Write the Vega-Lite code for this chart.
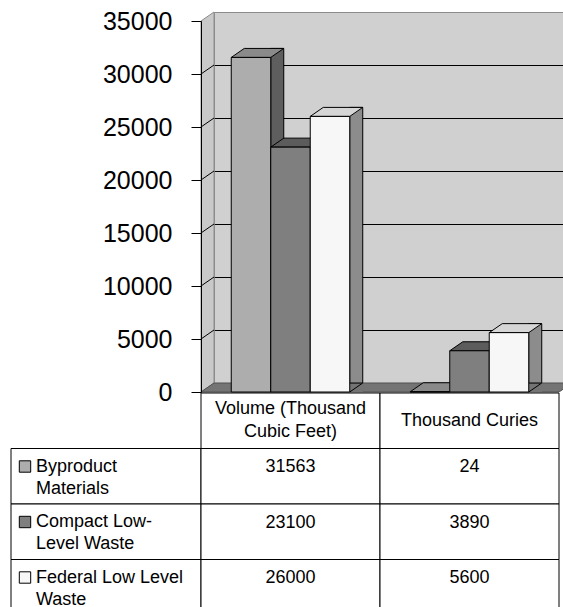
{
  "$schema": "https://vega.github.io/schema/vega-lite/v6.json",
  "width": 349,
  "height": 371,
  "autosize": {"type": "none"},
  "padding": {"left": 214, "top": 12, "right": 0, "bottom": 224},
  "background": "white",
  "config": {
    "font": "Liberation Sans",
    "view": {"fill": "#D0D0D0", "stroke": "#8C8C8C", "strokeWidth": 1}
  },
  "data": {
    "values": [
      {"category": "Volume (Thousand Cubic Feet)", "series": "Byproduct Materials", "value": 31563},
      {"category": "Volume (Thousand Cubic Feet)", "series": "Compact Low-Level Waste", "value": 23100},
      {"category": "Volume (Thousand Cubic Feet)", "series": "Federal Low Level Waste", "value": 26000},
      {"category": "Thousand Curies", "series": "Byproduct Materials", "value": 24},
      {"category": "Thousand Curies", "series": "Compact Low-Level Waste", "value": 3890},
      {"category": "Thousand Curies", "series": "Federal Low Level Waste", "value": 5600}
    ]
  },
  "layer": [
    {
      "layer": [
        {
          "transform": [{"aggregate": [{"op": "count", "as": "n"}]}],
          "mark": {"type": "point", "shape": "M -13 9 L 0 0 L 0 -371 L -13 -362 Z", "size": 4, "filled": true, "fill": "#C9C9C9", "stroke": "#8C8C8C", "strokeWidth": 1, "opacity": 1},
          "encoding": {
            "x": {"datum": "Volume (Thousand Cubic Feet)", "type": "nominal", "bandPosition": 0, "scale": {"type": "band", "domain": ["Volume (Thousand Cubic Feet)", "Thousand Curies"], "range": [0, 358], "paddingInner": 0, "paddingOuter": 0}, "axis": null},
            "y": {"datum": 0, "type": "quantitative", "scale": {"domain": [0, 35000], "nice": false, "zero": true},
              "axis": {"orient": "left", "grid": true, "gridColor": {"condition": {"test": "datum.value === 35000", "value": "#8C8C8C"}, "value": "#000000"}, "gridOpacity": 1, "gridWidth": 1, "domain": false, "ticks": false, "labels": false, "title": null, "values": [0, 5000, 10000, 15000, 20000, 25000, 30000, 35000]}}
          }
        },
        {
          "transform": [{"aggregate": [{"op": "count", "as": "n"}]}],
          "mark": {"type": "point", "shape": "M -13 -44 L 0 -53 M -13 -97 L 0 -106 M -13 -150 L 0 -159 M -13 -203 L 0 -212 M -13 -256 L 0 -265 M -13 -309 L 0 -318", "size": 4, "filled": false, "stroke": "#000000", "strokeWidth": 1, "opacity": 1},
          "encoding": {
            "x": {"datum": "Volume (Thousand Cubic Feet)", "type": "nominal", "bandPosition": 0, "scale": {"type": "band", "domain": ["Volume (Thousand Cubic Feet)", "Thousand Curies"], "range": [0, 358], "paddingInner": 0, "paddingOuter": 0}, "axis": null},
            "y": {"datum": 0, "type": "quantitative", "axis": null}
          }
        },
        {
          "transform": [{"aggregate": [{"op": "count", "as": "n"}]}],
          "mark": {"type": "point", "shape": "M -13 9 L 0 0 L 358 0 L 345 9 Z", "size": 4, "filled": true, "fill": "#747474", "stroke": "#505050", "strokeWidth": 1, "opacity": 1},
          "encoding": {
            "x": {"datum": "Volume (Thousand Cubic Feet)", "type": "nominal", "bandPosition": 0, "scale": {"type": "band", "domain": ["Volume (Thousand Cubic Feet)", "Thousand Curies"], "range": [0, 358], "paddingInner": 0, "paddingOuter": 0}, "axis": null},
            "y": {"datum": 0, "type": "quantitative", "axis": null}
          }
        },
        {
          "mark": {"type": "bar", "width": 13, "y2Offset": 9, "stroke": "#000000", "strokeWidth": 1},
          "encoding": {
            "x": {"field": "category", "type": "nominal", "scale": {"type": "band", "domain": ["Volume (Thousand Cubic Feet)", "Thousand Curies"], "range": [13.25, 371.25], "paddingInner": 0, "paddingOuter": 0}, "axis": null},
            "xOffset": {"field": "series", "type": "nominal", "scale": {"type": "band", "domain": ["Byproduct Materials", "Compact Low-Level Waste", "Federal Low Level Waste"], "paddingInner": 0, "paddingOuter": 0.766}},
            "y": {"field": "value", "type": "quantitative", "axis": null},
            "fill": {"field": "series", "type": "nominal", "scale": {"domain": ["Byproduct Materials", "Compact Low-Level Waste", "Federal Low Level Waste"], "range": ["#5E5E5E", "#4A4A4A", "#8C8C8C"]}, "legend": null}
          }
        },
        {
          "mark": {"type": "point", "shape": "M 19.75 0 L 19.75 9 L 6.75 9 Z", "size": 4, "filled": true, "fill": "#747474", "strokeWidth": 0, "opacity": 1},
          "encoding": {
            "x": {"field": "category", "type": "nominal", "scale": {"type": "band", "domain": ["Volume (Thousand Cubic Feet)", "Thousand Curies"], "range": [0, 358], "paddingInner": 0, "paddingOuter": 0}, "axis": null},
            "xOffset": {"field": "series", "type": "nominal", "scale": {"type": "band", "domain": ["Byproduct Materials", "Compact Low-Level Waste", "Federal Low Level Waste"], "paddingInner": 0, "paddingOuter": 0.766}},
            "y": {"datum": 0, "type": "quantitative", "axis": null}
          }
        },
        {
          "mark": {"type": "point", "shape": "M 6.75 9 L 19.75 0", "size": 4, "filled": false, "stroke": "#000000", "strokeWidth": 1, "opacity": 1},
          "encoding": {
            "x": {"field": "category", "type": "nominal", "scale": {"type": "band", "domain": ["Volume (Thousand Cubic Feet)", "Thousand Curies"], "range": [0, 358], "paddingInner": 0, "paddingOuter": 0}, "axis": null},
            "xOffset": {"field": "series", "type": "nominal", "scale": {"type": "band", "domain": ["Byproduct Materials", "Compact Low-Level Waste", "Federal Low Level Waste"], "paddingInner": 0, "paddingOuter": 0.766}},
            "y": {"datum": 0, "type": "quantitative", "axis": null}
          }
        },
        {
          "mark": {"type": "point", "shape": "M -32.75 9 L 6.75 9 L 19.75 0 L -19.75 0 Z", "size": 4, "filled": true, "stroke": "#000000", "strokeWidth": 1, "opacity": 1},
          "encoding": {
            "x": {"field": "category", "type": "nominal", "scale": {"type": "band", "domain": ["Volume (Thousand Cubic Feet)", "Thousand Curies"], "range": [0, 358], "paddingInner": 0, "paddingOuter": 0}, "axis": null},
            "xOffset": {"field": "series", "type": "nominal", "scale": {"type": "band", "domain": ["Byproduct Materials", "Compact Low-Level Waste", "Federal Low Level Waste"], "paddingInner": 0, "paddingOuter": 0.766}},
            "y": {"field": "value", "type": "quantitative", "axis": null},
            "fill": {"field": "series", "type": "nominal", "scale": {"domain": ["Byproduct Materials", "Compact Low-Level Waste", "Federal Low Level Waste"], "range": ["#8A8A8A", "#5C5C5C", "#D6D6D6"]}, "legend": null}
          }
        },
        {
          "mark": {"type": "bar", "yOffset": 9, "y2Offset": 9, "stroke": "#000000", "strokeWidth": 1},
          "encoding": {
            "x": {"field": "category", "type": "nominal", "scale": {"type": "band", "domain": ["Volume (Thousand Cubic Feet)", "Thousand Curies"], "range": [-13, 345], "paddingInner": 0, "paddingOuter": 0}, "axis": null},
            "xOffset": {"field": "series", "type": "nominal", "scale": {"type": "band", "domain": ["Byproduct Materials", "Compact Low-Level Waste", "Federal Low Level Waste"], "paddingInner": 0, "paddingOuter": 0.766}},
            "y": {"field": "value", "type": "quantitative",
              "axis": {"orient": "left", "offset": 22, "translate": 9.5, "grid": false, "domain": true, "domainColor": "#000000", "domainWidth": 1, "ticks": true, "tickColor": "#000000", "tickSize": 10, "tickWidth": 1, "labelFontSize": 25, "labelFont": "Liberation Sans", "labelColor": "#000000", "labelPadding": 19, "format": "d", "title": null, "zindex": 1, "values": [0, 5000, 10000, 15000, 20000, 25000, 30000, 35000]}},
            "fill": {"field": "series", "type": "nominal", "scale": {"domain": ["Byproduct Materials", "Compact Low-Level Waste", "Federal Low Level Waste"], "range": ["#ADADAD", "#7F7F7F", "#F7F7F7"]}, "legend": null}
          }
        }
      ],
      "resolve": {"scale": {"x": "independent", "xOffset": "independent", "fill": "independent"}, "axis": {"y": "independent"}}
    },
    {
      "layer": [
        {
          "transform": [{"aggregate": [{"op": "count", "as": "n"}], "groupby": ["series"]}],
          "mark": {"type": "rect", "width": 190, "xOffset": -184.5, "fill": "#FFFFFF", "stroke": "#000000", "strokeWidth": 1},
          "encoding": {
            "x": {"datum": "Volume (Thousand Cubic Feet)", "type": "nominal", "scale": {"type": "band", "domain": ["Volume (Thousand Cubic Feet)", "Thousand Curies"], "range": [-13, 345], "paddingInner": 0, "paddingOuter": 0}, "axis": null},
            "y": {"field": "series", "type": "nominal", "scale": {"type": "band", "domain": ["header", "Byproduct Materials", "Compact Low-Level Waste", "Federal Low Level Waste"], "range": [381, 603], "paddingInner": 0, "paddingOuter": 0}, "axis": null}
          }
        },
        {
          "mark": {"type": "rect", "fill": "#FFFFFF", "stroke": "#000000", "strokeWidth": 1},
          "encoding": {
            "x": {"field": "category", "type": "nominal", "axis": null},
            "y": {"field": "series", "type": "nominal", "axis": null}
          }
        },
        {
          "transform": [{"aggregate": [{"op": "count", "as": "n"}], "groupby": ["category"]}],
          "mark": {"type": "rect", "fill": "#FFFFFF", "stroke": "#000000", "strokeWidth": 1},
          "encoding": {
            "x": {"field": "category", "type": "nominal", "axis": null},
            "y": {"datum": "header", "type": "nominal", "axis": null}
          }
        },
        {
          "transform": [
            {"filter": "datum.category === 'Volume (Thousand Cubic Feet)'"},
            {"aggregate": [{"op": "count", "as": "n"}], "groupby": ["category"]},
            {"calculate": "['Volume (Thousand', 'Cubic Feet)']", "as": "hdr"}
          ],
          "mark": {"type": "text", "yOffset": -11.5, "align": "center", "baseline": "middle", "fontSize": 18, "lineHeight": 23, "font": "Liberation Sans", "color": "#000000"},
          "encoding": {
            "x": {"field": "category", "type": "nominal", "axis": null},
            "y": {"datum": "header", "type": "nominal", "axis": null},
            "text": {"field": "hdr", "type": "nominal"}
          }
        },
        {
          "transform": [
            {"filter": "datum.category === 'Thousand Curies'"},
            {"aggregate": [{"op": "count", "as": "n"}], "groupby": ["category"]}
          ],
          "mark": {"type": "text", "align": "center", "baseline": "middle", "fontSize": 18, "font": "Liberation Sans", "color": "#000000"},
          "encoding": {
            "x": {"field": "category", "type": "nominal", "axis": null},
            "y": {"datum": "header", "type": "nominal", "axis": null},
            "text": {"field": "category", "type": "nominal"}
          }
        },
        {
          "mark": {"type": "text", "yOffset": 23.5, "align": "center", "baseline": "alphabetic", "fontSize": 18, "font": "Liberation Sans", "color": "#000000"},
          "encoding": {
            "x": {"field": "category", "type": "nominal", "axis": null},
            "y": {"field": "series", "type": "nominal", "bandPosition": 0, "axis": null},
            "text": {"field": "value", "type": "quantitative", "format": "d"}
          }
        },
        {
          "transform": [{"aggregate": [{"op": "count", "as": "n"}], "groupby": ["series"]}],
          "mark": {"type": "point", "shape": "square", "size": 130, "filled": true, "stroke": "#000000", "strokeWidth": 1, "opacity": 1, "xOffset": -176, "yOffset": 18},
          "encoding": {
            "x": {"datum": "Volume (Thousand Cubic Feet)", "type": "nominal", "bandPosition": 0, "axis": null},
            "y": {"field": "series", "type": "nominal", "bandPosition": 0, "axis": null},
            "fill": {"field": "series", "type": "nominal", "scale": {"domain": ["Byproduct Materials", "Compact Low-Level Waste", "Federal Low Level Waste"], "range": ["#ADADAD", "#7F7F7F", "#F7F7F7"]}, "legend": null}
          }
        },
        {
          "transform": [
            {"aggregate": [{"op": "count", "as": "n"}], "groupby": ["series"]},
            {"calculate": "datum.series === 'Byproduct Materials' ? ['Byproduct', 'Materials'] : datum.series === 'Compact Low-Level Waste' ? ['Compact Low-', 'Level Waste'] : ['Federal Low Level', 'Waste']", "as": "lines"}
          ],
          "mark": {"type": "text", "xOffset": -165, "yOffset": 23, "align": "left", "baseline": "alphabetic", "fontSize": 18, "lineHeight": 22, "font": "Liberation Sans", "color": "#000000"},
          "encoding": {
            "x": {"datum": "Volume (Thousand Cubic Feet)", "type": "nominal", "bandPosition": 0, "axis": null},
            "y": {"field": "series", "type": "nominal", "bandPosition": 0, "axis": null},
            "text": {"field": "lines", "type": "nominal"}
          }
        }
      ],
      "resolve": {"scale": {"fill": "independent"}}
    }
  ],
  "resolve": {"scale": {"x": "independent", "y": "independent", "fill": "independent"}}
}
